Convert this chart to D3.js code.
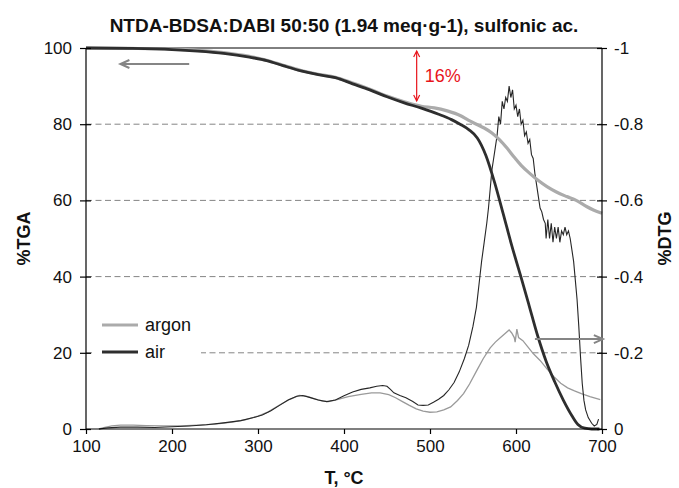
<!DOCTYPE html>
<html><head><meta charset="utf-8">
<script src="https://cdn.jsdelivr.net/npm/d3@7"></script>
<style>
html,body{margin:0;padding:0;background:#fff;}
svg{display:block;font-family:"Liberation Sans",Arial,Helvetica,sans-serif;}
</style></head>
<body><svg id="chart" width="679" height="488"></svg>
<script>
// ---------- DATA ----------
const chartTitle = "NTDA-BDSA:DABI 50:50 (1.94 meq·g-1), sulfonic ac.";
const xTicks = [100,200,300,400,500,600,700];
const leftTicks = [0,20,40,60,80,100];
const rightTicks = [0,0.2,0.4,0.6,0.8,1];
const rightTickLabels = ["0","-0.2","-0.4","-0.6","-0.8","-1"];
const seriesNames = ["argon","air"];

const argonTGA = [[100,100],[150,99.9],[200,99.7],[230,99.4],[260,98.8],[290,97.8],[310,96.8],[330,95.4],[350,94.1],[370,93.1],[390,92.3],[410,90.8],[430,89.2],[450,87.4],[470,85.9],[490,84.7],[505,84.3],[520,83.5],[535,82.3],[545,81],[554,80],[563,79],[572,77.7],[581,75.9],[590,73.6],[597,71.6],[606,69.2],[616,67.1],[626,65.2],[636,63.6],[647,62.2],[659,61],[670,60],[682,58.4],[690,57.5],[700,56.6]];

const airTGA = [[100,100],[150,99.9],[200,99.6],[230,99.2],[260,98.6],[290,97.6],[310,96.7],[330,95.3],[350,94],[370,93],[390,92.2],[410,90.6],[430,89],[450,87.2],[470,85.6],[490,84.2],[510,82.6],[525,81.2],[535,80],[545,78.6],[555,76.4],[565,71.8],[575,64.8],[585,56.6],[595,48.2],[605,40.5],[615,32.6],[625,24.6],[635,17.8],[645,12.4],[655,7.6],[665,3.5],[672,1.2],[680,0.2],[688,0],[697,0]];

// DTG magnitude (axis shows it as negative)
const argonDTG = [[115,0],[122,0.004],[130,0.008],[140,0.01],[155,0.01],[170,0.009],[190,0.008],[210,0.008],[230,0.01],[250,0.013],[270,0.018],[285,0.024],[300,0.034],[312,0.045],[325,0.063],[337,0.078],[348,0.088],[356,0.086],[365,0.08],[375,0.073],[382,0.072],[392,0.077],[405,0.085],[420,0.091],[432,0.095],[442,0.095],[452,0.09],[460,0.082],[468,0.072],[476,0.062],[484,0.053],[492,0.047],[500,0.044],[508,0.045],[516,0.05],[524,0.058],[532,0.075],[539,0.093],[546,0.118],[554,0.152],[562,0.185],[570,0.213],[576,0.228],[582,0.24],[587,0.25],[592,0.26],[595,0.252],[598,0.24],[599,0.228],[601,0.262],[603,0.24],[608,0.232],[614,0.215],[620,0.198],[628,0.18],[636,0.158],[645,0.135],[652,0.12],[660,0.108],[668,0.1],[676,0.093],[686,0.085],[698,0.077]];

const airDTG = [[115,0],[125,0.003],[140,0.005],[160,0.005],[180,0.004],[200,0.006],[220,0.008],[240,0.011],[260,0.016],[280,0.022],[295,0.03],[305,0.037],[315,0.048],[325,0.062],[335,0.076],[345,0.086],[352,0.088],[360,0.083],[370,0.076],[380,0.072],[390,0.076],[400,0.087],[410,0.097],[420,0.104],[430,0.108],[438,0.112],[445,0.114],[450,0.112],[454,0.104],[458,0.095],[465,0.088],[472,0.082],[480,0.072],[486,0.063],[492,0.062],[498,0.063],[504,0.07],[510,0.078],[516,0.088],[522,0.103],[528,0.122],[534,0.15],[540,0.185],[545,0.22],[550,0.27],[554,0.32],[557,0.38],[560,0.44],[563,0.49],[566,0.54],[568,0.58],[570,0.63],[572,0.68],[574,0.71],[576,0.74],[578,0.77],[580,0.82],[582,0.8],[584,0.86],[586,0.84],[588,0.87],[590,0.86],[592,0.9],[594,0.87],[596,0.89],[598,0.84],[600,0.85],[602,0.82],[604,0.84],[606,0.8],[608,0.81],[610,0.77],[612,0.78],[614,0.75],[616,0.76],[618,0.72],[620,0.71],[622,0.67],[624,0.64],[626,0.61],[628,0.58],[630,0.57],[632,0.55],[634,0.54],[635,0.5],[637,0.55],[639,0.5],[641,0.54],[643,0.49],[645,0.53],[647,0.5],[649,0.53],[651,0.49],[653,0.52],[655,0.51],[657,0.53],[659,0.51],[661,0.52],[663,0.5],[665,0.47],[667,0.44],[669,0.39],[671,0.34],[673,0.27],[675,0.19],[677,0.12],[679,0.075],[681,0.05],[684,0.03],[688,0.015],[691,0.008],[694,0.012],[696,0.026]];

// annotations (data coordinates)
const lossArrow = {t:484.5, from:99.2, to:86.1, label:"16%"};
const tgaArrow = {from:220, to:140, y:95.8};
const dtgArrow = {from:622, to:701, y:0.236};

// ---------- LAYOUT ----------
const M = {left:86, right:602, top:48, bottom:429};
const svg = d3.select("#chart");
const x = d3.scaleLinear().domain([100,700]).range([M.left, M.right]);
const yL = d3.scaleLinear().domain([0,100]).range([M.bottom, M.top]);
const yR = d3.scaleLinear().domain([0,1]).range([M.bottom, M.top]);
const font = '"Liberation Sans",Arial,Helvetica,sans-serif';

// gridlines
svg.append("g").selectAll("line").data(leftTicks.filter(d=>d>0 && d<100)).join("line")
  .attr("x1",M.left).attr("x2",M.right)
  .attr("y1",d=>yL(d)).attr("y2",d=>yL(d))
  .attr("stroke","#858585").attr("stroke-width",1).attr("stroke-dasharray","6,3.5");

// top border
svg.append("line").attr("x1",M.left).attr("x2",M.right).attr("y1",M.top).attr("y2",M.top)
  .attr("stroke","#000").attr("stroke-width",1);

// legend background (covers the gridline)
svg.append("rect").attr("x",93).attr("y",308).attr("width",108).attr("height",60).attr("fill","#fff");

// curves
const lineL = d3.line().x(d=>x(d[0])).y(d=>yL(d[1])).curve(d3.curveMonotoneX);
const lineR = d3.line().x(d=>x(d[0])).y(d=>yR(d[1])).curve(d3.curveLinear);

svg.append("path").datum(argonDTG).attr("d",lineR).attr("fill","none").attr("stroke","#9a9a9a").attr("stroke-width",1.3);
svg.append("path").datum(airDTG).attr("d",lineR).attr("fill","none").attr("stroke","#262626").attr("stroke-width",1.1);
svg.append("path").datum(argonTGA).attr("d",lineL).attr("fill","none").attr("stroke","#ababab").attr("stroke-width",3.2);
svg.append("path").datum(airTGA).attr("d",lineL).attr("fill","none").attr("stroke","#2e2e2e").attr("stroke-width",2.8);

// axes
const gx = svg.append("g").attr("transform",`translate(0,${M.bottom})`)
  .call(d3.axisBottom(x).tickValues(xTicks).tickSize(5).tickPadding(6).tickFormat(d3.format("d")));
const gl = svg.append("g").attr("transform",`translate(${M.left},0)`)
  .call(d3.axisLeft(yL).tickValues(leftTicks).tickSize(6).tickPadding(8));
gl.selectAll(".tick line").attr("x1",5);
const gr = svg.append("g").attr("transform",`translate(${M.right},0)`)
  .call(d3.axisRight(yR).tickValues(rightTicks).tickSize(5).tickPadding(7).tickFormat((d,i)=>rightTickLabels[i]));
gr.selectAll(".tick line").attr("x1",-5);
[gx,gl,gr].forEach(g=>{
  g.select(".domain").attr("stroke","#000").attr("stroke-width",1.2);
  g.selectAll(".tick line").attr("stroke","#000").attr("stroke-width",1.2);
  g.selectAll("text").attr("font-family",font).attr("font-size",17).attr("fill","#111");
});
gx.select(".domain").attr("d",`M${M.left},0H${M.right}`);
gl.select(".domain").attr("d",`M0,${M.bottom}V${M.top}`);
gr.select(".domain").attr("d",`M0,${M.bottom}V${M.top}`);

// title & axis titles
svg.append("text").attr("x",344).attr("y",32).attr("text-anchor","middle")
  .attr("font-size",19).attr("font-weight","bold").attr("fill","#111").text(chartTitle);
svg.append("text").attr("x",344).attr("y",484).attr("text-anchor","middle")
  .attr("font-size",18).attr("font-weight","bold").attr("fill","#111").text("T, °C");
svg.append("text").attr("transform",`translate(24,${(M.top+M.bottom)/2}) rotate(-90)`).attr("text-anchor","middle")
  .attr("dominant-baseline","central").attr("font-size",18).attr("font-weight","bold").attr("fill","#111").text("%TGA");
svg.append("text").attr("transform",`translate(665,${(M.top+M.bottom)/2}) rotate(-90)`).attr("text-anchor","middle")
  .attr("dominant-baseline","central").attr("font-size",18).attr("font-weight","bold").attr("fill","#111").text("%DTG");

// legend
const legColors = ["#ababab","#2e2e2e"];
const lg = svg.append("g");
seriesNames.forEach((n,i)=>{
  const yy = 325 + i*27;
  lg.append("line").attr("x1",102).attr("x2",138).attr("y1",yy).attr("y2",yy).attr("stroke",legColors[i]).attr("stroke-width",3);
  lg.append("text").attr("x",145).attr("y",yy).attr("dominant-baseline","central").attr("font-size",18).attr("fill","#111").text(n);
});

// red 16% arrow
const rx = x(lossArrow.t), ry1 = yL(lossArrow.from), ry2 = yL(lossArrow.to);
const red = "#e8141b";
svg.append("line").attr("x1",rx).attr("x2",rx).attr("y1",ry1).attr("y2",ry2).attr("stroke",red).attr("stroke-width",1.2);
svg.append("path").attr("d",`M${rx-3},${ry1+6}L${rx},${ry1}L${rx+3},${ry1+6}M${rx-3},${ry2-6}L${rx},${ry2}L${rx+3},${ry2-6}`)
  .attr("fill","none").attr("stroke",red).attr("stroke-width",1.2);
svg.append("text").attr("x",rx+8).attr("y",ry1+31).attr("font-size",18).attr("fill",red).text(lossArrow.label);

// gray arrows
const gcol = "#858585";
const ax1 = x(tgaArrow.from), ax2 = x(tgaArrow.to), ay = yL(tgaArrow.y);
svg.append("line").attr("x1",ax1).attr("x2",ax2+1).attr("y1",ay).attr("y2",ay).attr("stroke",gcol).attr("stroke-width",2);
svg.append("path").attr("d",`M${ax2+9},${ay-4}L${ax2},${ay}L${ax2+9},${ay+4}`).attr("fill","none").attr("stroke",gcol).attr("stroke-width",2);
const bx1 = x(dtgArrow.from), bx2 = x(dtgArrow.to), by = yR(dtgArrow.y);
svg.append("line").attr("x1",bx1).attr("x2",bx2-1).attr("y1",by).attr("y2",by).attr("stroke",gcol).attr("stroke-width",2);
svg.append("path").attr("d",`M${bx2-9},${by-4}L${bx2},${by}L${bx2-9},${by+4}`).attr("fill","none").attr("stroke",gcol).attr("stroke-width",2);
</script></body></html>
